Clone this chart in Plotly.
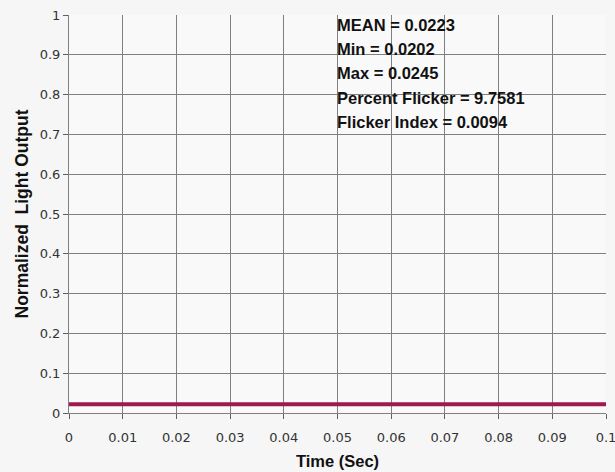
import plotly.graph_objects as go

time_s = [0.0, 0.01, 0.02, 0.03, 0.04, 0.05, 0.06, 0.07, 0.08, 0.09, 0.1]
light = [0.0223, 0.0224, 0.0222, 0.0223, 0.0224, 0.0222, 0.0223, 0.0224, 0.0222, 0.0223, 0.0223]
x_ticks = [0, 0.01, 0.02, 0.03, 0.04, 0.05, 0.06, 0.07, 0.08, 0.09, 0.1]
x_labels = ["0", "0.01", "0.02", "0.03", "0.04", "0.05", "0.06", "0.07", "0.08", "0.09", "0.1"]
y_ticks = [0, 0.1, 0.2, 0.3, 0.4, 0.5, 0.6, 0.7, 0.8, 0.9, 1]
y_labels = ["0", "0.1", "0.2", "0.3", "0.4", "0.5", "0.6", "0.7", "0.8", "0.9", "1"]
stats_lines = ["MEAN = 0.0223", "Min = 0.0202", "Max = 0.0245",
               "Percent Flicker = 9.7581", "Flicker Index = 0.0094"]

fig = go.Figure()
fig.add_trace(go.Scatter(x=time_s, y=light, mode="lines",
                         line=dict(color="#9E1A4E", width=4), showlegend=False))

axis_common = dict(showgrid=True, gridcolor="#808080", gridwidth=1,
                   showline=True, linecolor="#808080", linewidth=1,
                   ticks="outside", ticklen=5, tickcolor="#606060",
                   zeroline=False, ticklabeloverflow="allow", automargin=False,
                   tickfont=dict(family="DejaVu Sans", size=13, color="#333333"))

fig.update_xaxes(range=[0, 0.1], tickvals=x_ticks, ticktext=x_labels,
                 ticklabelstandoff=7,
                 title=dict(text="<b>Time (Sec)</b>", standoff=11,
                            font=dict(family="Liberation Sans", size=16.5, color="#111111")),
                 **axis_common)
fig.update_yaxes(range=[0, 1.0001], tickvals=y_ticks, ticktext=y_labels,
                 title=dict(text="<b>Normalized  Light Output</b>", standoff=6,
                            font=dict(family="Liberation Sans", size=17.5, color="#111111")),
                 **axis_common)

# stats text block, one annotation per line (line pitch ~24 px)
plot_top_px, plot_h_px = 15, 398
for i, s in enumerate(stats_lines):
    py = 25 + 24.2 * i
    fig.add_annotation(text="<b>%s</b>" % s,
                       xref="paper", yref="paper", x=0.4953,
                       y=1 - (py - plot_top_px) / plot_h_px,
                       xanchor="left", yanchor="middle", align="left", showarrow=False,
                       font=dict(family="Liberation Sans", size=16.5, color="#111111"))

fig.update_layout(width=615, height=472,
                  margin=dict(l=69, r=9, t=15, b=59),
                  paper_bgcolor="#F6F6F6", plot_bgcolor="#F9F9F9")

fig.write_html("out.html")
